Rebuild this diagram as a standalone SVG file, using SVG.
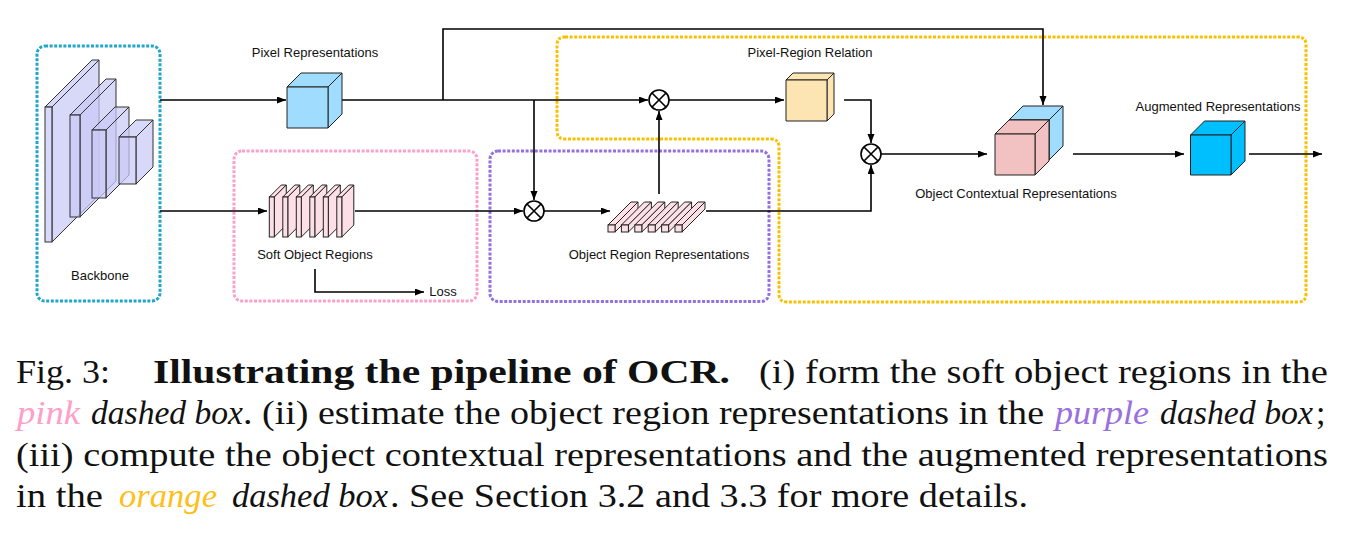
<svg xmlns="http://www.w3.org/2000/svg" width="1362" height="541" viewBox="0 0 1362 541">
<style>
.lbl{font-family:"Liberation Sans",Arial,sans-serif;font-size:13px;fill:#111;text-anchor:middle}
.cap{font-family:"Liberation Serif","Times New Roman",serif;font-size:34px;fill:#111}
.it{font-style:italic}
.bd{font-weight:bold}
.box{fill:none;stroke-width:3;stroke-dasharray:3 1.6}
.slab{fill:#c9c9f7;fill-opacity:0.72;stroke:#333;stroke-width:1}
.sor{fill:#fde0e6;stroke:#222;stroke-width:1}
.cube{stroke:#222;stroke-width:1;stroke-linejoin:round}
.con{fill:none;stroke:#000;stroke-width:1.6;marker-end:url(#ah)}
.ot circle{fill:#fff;stroke:#000;stroke-width:1.6}
.ot path{stroke:#000;stroke-width:1.6}
</style>
<defs>
<marker id="ah" markerUnits="userSpaceOnUse" markerWidth="10" markerHeight="8" refX="9" refY="3.5" orient="auto">
<path d="M0,0 L9,3.5 L0,7 z" fill="#000"/>
</marker>
</defs>
<rect width="1362" height="541" fill="#fff"/>

<!-- dashed boxes -->
<rect id="box-backbone" class="box" x="37" y="46" width="123" height="255" rx="8" stroke="#1fa6c9"/>
<rect id="box-pink" class="box" x="234" y="151" width="243" height="150" rx="8" stroke="#f9a1cb"/>
<rect id="box-purple" class="box" x="490" y="151" width="279" height="150.5" rx="8" stroke="#9470dc"/>
<path id="box-orange" class="box" stroke="#f9c000" d="M565,37 H1298 Q1306,37 1306,45 V294 Q1306,302 1298,302 H787 Q779,302 779,294 V147 Q779,139 771,139 H565 Q557,139 557,131 V45 Q557,37 565,37 Z"/>

<!-- connectors -->
<g id="connectors">
<line class="con" x1="160" y1="100" x2="286" y2="100"/>
<line class="con" x1="160" y1="211" x2="267" y2="211"/>
<line class="con" x1="342" y1="100" x2="648" y2="100"/>
<line class="con" x1="534" y1="100" x2="534" y2="200"/>
<polyline class="con" points="443,100 443,29 1043,29 1043,105"/>
<line class="con" x1="355" y1="211" x2="523" y2="211"/>
<line class="con" x1="544" y1="211" x2="610" y2="211"/>
<line class="con" x1="659" y1="194" x2="659" y2="111"/>
<line class="con" x1="669" y1="100" x2="784" y2="100"/>
<polyline class="con" points="844,100 871,100 871,143"/>
<polyline class="con" points="706,211 871,211 871,165"/>
<line class="con" x1="881" y1="154" x2="987" y2="154"/>
<line class="con" x1="1073" y1="154" x2="1184" y2="154"/>
<line class="con" x1="1249" y1="154" x2="1322" y2="154"/>
<polyline class="con" points="315,269 315,292 424,292"/>
</g>

<!-- Backbone -->
<g id="backbone">
<g class="slab">
<polygon points="45,107 92,60 99,60 52,107"/>
<polygon points="52,107 99,60 99,195 52,242"/>
<rect x="45" y="107" width="7" height="135"/>
</g>
<g class="slab">
<polygon points="70,115 106,79 116,79 80,115"/>
<polygon points="80,115 116,79 116,181 80,217"/>
<rect x="70" y="115" width="10" height="102"/>
</g>
<g class="slab">
<polygon points="92,130 115,107 129,107 106,130"/>
<polygon points="106,130 129,107 129,175 106,198"/>
<rect x="92" y="130" width="14" height="68"/>
</g>
<g class="slab">
<polygon points="119,137 136,120 153,120 136,137"/>
<polygon points="136,137 153,120 153,167 136,184"/>
<rect x="119" y="137" width="17" height="47"/>
</g>
<text class="lbl" x="100" y="280">Backbone</text>
</g>

<!-- Pixel Representations -->
<g id="pixel-rep">
<g class="cube" fill="#a0dcfd">
<polygon points="287,87 301,73 342,73 328,87"/>
<polygon points="328,87 342,73 342,114 328,128"/>
<rect x="287" y="87" width="41" height="41"/>
</g>
<text class="lbl" x="315" y="57">Pixel Representations</text>
</g>

<!-- Soft Object Regions -->
<g id="soft-object-regions">
<g class="sor">
<polygon points="269.3,197 281.3,185 286.3,185 274.3,197"/><polygon points="274.3,197 286.3,185 286.3,225 274.3,237"/><rect x="269.3" y="197" width="5" height="40"/>
<polygon points="282.8,197 294.8,185 299.8,185 287.8,197"/><polygon points="287.8,197 299.8,185 299.8,225 287.8,237"/><rect x="282.8" y="197" width="5" height="40"/>
<polygon points="296.3,197 308.3,185 313.3,185 301.3,197"/><polygon points="301.3,197 313.3,185 313.3,225 301.3,237"/><rect x="296.3" y="197" width="5" height="40"/>
<polygon points="309.8,197 321.8,185 326.8,185 314.8,197"/><polygon points="314.8,197 326.8,185 326.8,225 314.8,237"/><rect x="309.8" y="197" width="5" height="40"/>
<polygon points="323.3,197 335.3,185 340.3,185 328.3,197"/><polygon points="328.3,197 340.3,185 340.3,225 328.3,237"/><rect x="323.3" y="197" width="5" height="40"/>
<polygon points="336.8,197 348.8,185 353.8,185 341.8,197"/><polygon points="341.8,197 353.8,185 353.8,225 341.8,237"/><rect x="336.8" y="197" width="5" height="40"/>
</g>
<text class="lbl" x="315" y="259">Soft Object Regions</text>
</g>

<g id="loss">
<text class="lbl" x="443" y="296">Loss</text>
</g>

<!-- otimes nodes -->
<g id="otimes-0" class="ot"><circle cx="534" cy="211" r="10"/><path d="M527,204 L541,218 M541,204 L527,218"/></g>
<g id="otimes-1" class="ot"><circle cx="659" cy="100" r="10"/><path d="M652,93 L666,107 M666,93 L652,107"/></g>
<g id="otimes-2" class="ot"><circle cx="871" cy="154" r="10"/><path d="M864,147 L878,161 M878,147 L864,161"/></g>

<!-- Object Region Representations -->
<g id="object-region-rep">
<g class="sor">
<polygon points="608,225 631,202 638,202 615,225"/><polygon points="615,225 638,202 638,209 615,232"/><rect x="608" y="225" width="7" height="7"/>
<polygon points="621.4,225 644.4,202 651.4,202 628.4,225"/><polygon points="628.4,225 651.4,202 651.4,209 628.4,232"/><rect x="621.4" y="225" width="7" height="7"/>
<polygon points="634.8,225 657.8,202 664.8,202 641.8,225"/><polygon points="641.8,225 664.8,202 664.8,209 641.8,232"/><rect x="634.8" y="225" width="7" height="7"/>
<polygon points="648.2,225 671.2,202 678.2,202 655.2,225"/><polygon points="655.2,225 678.2,202 678.2,209 655.2,232"/><rect x="648.2" y="225" width="7" height="7"/>
<polygon points="661.6,225 684.6,202 691.6,202 668.6,225"/><polygon points="668.6,225 691.6,202 691.6,209 668.6,232"/><rect x="661.6" y="225" width="7" height="7"/>
<polygon points="675,225 698,202 705,202 682,225"/><polygon points="682,225 705,202 705,209 682,232"/><rect x="675" y="225" width="7" height="7"/>
</g>
<text class="lbl" x="659" y="259">Object Region Representations</text>
</g>

<!-- Pixel-Region Relation -->
<g id="pixel-region-relation">
<g class="cube" fill="#fde4b3">
<polygon points="786,80 793,73 834,73 827,80"/>
<polygon points="827,80 834,73 834,114 827,121"/>
<rect x="786" y="80" width="41" height="41"/>
</g>
<text class="lbl" x="810" y="57">Pixel-Region Relation</text>
</g>

<!-- Object Contextual Representations -->
<g id="object-contextual-rep">
<g class="cube" fill="#a0dcfd">
<polygon points="1009,120 1023,106 1063,106 1049,120"/>
<polygon points="1049,120 1063,106 1063,146 1049,160"/>
<rect x="1009" y="120" width="40" height="40"/>
</g>
<g class="cube" fill="#f2c1c1">
<polygon points="995,134 1009,120 1049,120 1035,134"/>
<polygon points="1035,134 1049,120 1049,161 1035,175"/>
<rect x="995" y="134" width="40" height="41"/>
</g>
<text class="lbl" x="1016" y="198">Object Contextual Representations</text>
</g>

<!-- Augmented Representations -->
<g id="augmented-rep">
<g class="cube" fill="#00bfff" stroke="#143a4f">
<polygon points="1190.5,135 1204.5,121 1245,121 1231,135"/>
<polygon points="1231,135 1245,121 1245,161 1231,175"/>
<rect x="1190.5" y="135" width="40.5" height="40"/>
</g>
<text class="lbl" x="1218" y="110.5">Augmented Representations</text>
</g>

<!-- caption -->
<g id="caption">
<text class="cap" x="16" y="383" textLength="94" lengthAdjust="spacingAndGlyphs">Fig. 3:</text>
<text class="cap bd" x="153" y="383" textLength="577" lengthAdjust="spacingAndGlyphs">Illustrating the pipeline of OCR.</text>
<text class="cap" x="759" y="383" textLength="569" lengthAdjust="spacingAndGlyphs">(i) form the soft object regions in the</text>

<text class="cap it" x="17" y="424" textLength="63" lengthAdjust="spacingAndGlyphs" style="fill:#ff9ec8">pink</text>
<text class="cap it" x="91" y="424" textLength="152" lengthAdjust="spacingAndGlyphs">dashed box</text>
<text class="cap" x="243" y="424" textLength="801" lengthAdjust="spacingAndGlyphs">. (ii) estimate the object region representations in the</text>
<text class="cap it" x="1055" y="424" textLength="94" lengthAdjust="spacingAndGlyphs" style="fill:#9a70df">purple</text>
<text class="cap it" x="1160" y="424" textLength="153" lengthAdjust="spacingAndGlyphs">dashed box</text>
<text class="cap" x="1316" y="424">;</text>

<text class="cap" x="16" y="465.5" textLength="1312" lengthAdjust="spacingAndGlyphs">(iii) compute the object contextual representations and the augmented representations</text>

<text class="cap" x="16" y="507" textLength="87" lengthAdjust="spacingAndGlyphs">in the</text>
<text class="cap it" x="119" y="507" textLength="98" lengthAdjust="spacingAndGlyphs" style="fill:#ffbf1a">orange</text>
<text class="cap it" x="232" y="507" textLength="156" lengthAdjust="spacingAndGlyphs">dashed box</text>
<text class="cap" x="390" y="507" textLength="638" lengthAdjust="spacingAndGlyphs">. See Section 3.2 and 3.3 for more details.</text>
</g>
</svg>
